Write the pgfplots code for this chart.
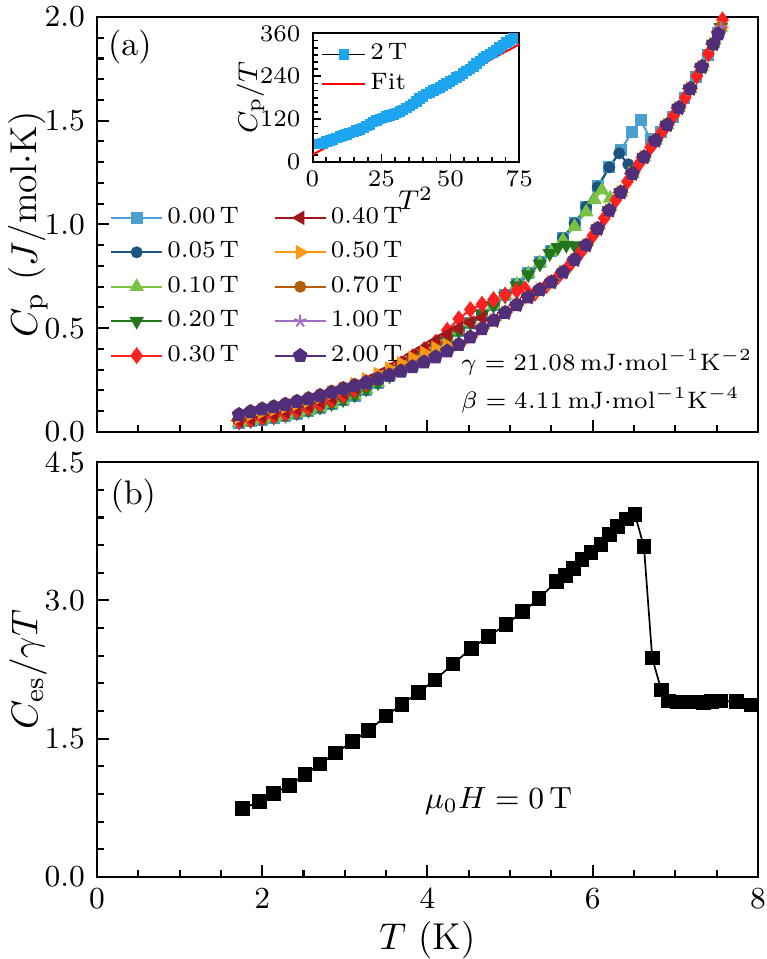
\documentclass[border=0pt]{standalone}
\usepackage{pgfplots}
\pgfplotsset{compat=1.18}
\usetikzlibrary{plotmarks}
\definecolor{c0}{RGB}{74,158,208}
\definecolor{c1}{RGB}{28,84,128}
\definecolor{c2}{RGB}{122,194,66}
\definecolor{c3}{RGB}{36,118,30}
\definecolor{c4}{RGB}{255,32,32}
\definecolor{c5}{RGB}{160,22,26}
\definecolor{c6}{RGB}{255,150,20}
\definecolor{c7}{RGB}{180,92,8}
\definecolor{c8}{RGB}{160,112,196}
\definecolor{c9}{RGB}{80,46,122}
\definecolor{cin}{RGB}{30,165,240}
\pgfplotsset{
  panel/.style={width=194.4pt, height=122pt, scale only axis, xmin=0, xmax=8,
    tick align=inside, tick pos=left,
    major tick length=3.5pt, minor tick length=2pt,
    every tick/.style={black, line width=0.6pt},
    axis line style={line width=0.7pt},
    tick label style={font=\fontsize{9}{10}\selectfont},
    label style={font=\fontsize{11}{13}\selectfont},
    yticklabel style={/pgf/number format/.cd,fixed,fixed zerofill,precision=1},
    xtick={0,2,4,6,8}, minor x tick num=3,
    ylabel style={at={(axis description cs:-0.104,0.5)},anchor=center},
  },
  ser/.style={color=#1, line width=0.6pt, mark options={solid, fill=#1, draw=#1}},
}
\begin{document}
\begin{tikzpicture}
% bottom panel
\begin{axis}[panel, at={(0,0)}, anchor=south west,
  ymin=0, ymax=4.5, ytick={0,1.5,3,4.5}, minor y tick num=4,
  xlabel={$T$ (K)}, ylabel={$C_\mathrm{es}/\gamma T$},
  xlabel style={at={(axis description cs:0.5,-0.152)},anchor=center}]
\addplot[black, line width=0.5pt, mark=square*, mark size=1.9pt] coordinates {
(1.76,0.741)(1.97,0.821)(2.14,0.908)(2.33,0.995)(2.52,1.111)(2.70,1.228)(2.89,1.344)
(3.09,1.471)(3.29,1.591)(3.50,1.747)(3.69,1.874)(3.89,2.001)(4.09,2.139)(4.31,2.310)
(4.53,2.481)(4.74,2.608)(4.95,2.739)(5.15,2.877)(5.35,3.018)(5.56,3.207)(5.67,3.273)
(5.77,3.345)(5.87,3.444)(5.98,3.520)(6.10,3.607)(6.20,3.716)(6.30,3.800)(6.41,3.883)
(6.51,3.934)(6.62,3.582)(6.72,2.376)(6.83,2.027)(6.92,1.911)(7.02,1.900)(7.13,1.900)
(7.23,1.900)(7.34,1.893)(7.44,1.903)(7.55,1.911)(7.74,1.903)(7.92,1.867)};
\node[font=\fontsize{10}{12}\selectfont] at (axis cs:0.44,4.13) {(b)};
\node[font=\fontsize{9}{11}\selectfont] at (axis cs:4.86,0.82) {$\mu_0H=0\,\mathrm{T}$};
\end{axis}
% top panel
\begin{axis}[panel, at={(0,130.9pt)}, anchor=south west,
  ymin=0, ymax=2, ytick={0,0.5,1,1.5,2}, minor y tick num=4, xticklabels={},
  ylabel={$C_\mathrm{p}$ ($J$/mol$\cdot$K)},
  legend columns=2,
  legend cell align=left,
  legend style={at={(0.019,0.553)}, anchor=north west, draw=none, fill=none, inner sep=0pt,
    font=\fontsize{7}{8}\selectfont, row sep=1.5pt, nodes={inner sep=1.2pt},
    /tikz/every even column/.append style={column sep=9pt}},
  legend image code/.code={\draw[mark repeat=2,mark phase=2,#1] plot coordinates {(0pt,0pt)(7.5pt,0pt)(15pt,0pt)};},
]
% legend in column order
\addlegendimage{ser=c0, mark=square*, mark size=1.45pt}\addlegendentry{0.00\,T}
\addlegendimage{ser=c5, mark=triangle*, mark size=1.9pt, mark options={rotate=90}}\addlegendentry{0.40\,T}
\addlegendimage{ser=c1, mark=*, mark size=1.45pt}\addlegendentry{0.05\,T}
\addlegendimage{ser=c6, mark=triangle*, mark size=1.9pt, mark options={rotate=-90}}\addlegendentry{0.50\,T}
\addlegendimage{ser=c2, mark=triangle*, mark size=1.9pt}\addlegendentry{0.10\,T}
\addlegendimage{ser=c7, mark=*, mark size=1.45pt}\addlegendentry{0.70\,T}
\addlegendimage{ser=c3, mark=triangle*, mark size=1.9pt, mark options={rotate=180}}\addlegendentry{0.20\,T}
\addlegendimage{ser=c8, mark=star, mark size=1.9pt}\addlegendentry{1.00\,T}
\addlegendimage{ser=c4, mark=diamond*, mark size=2pt}\addlegendentry{0.30\,T}
\addlegendimage{ser=c9, mark=pentagon*, mark size=1.9pt}\addlegendentry{2.00\,T}
% 0.00 T
\addplot[forget plot, ser=c0, mark=square*, mark size=1.45pt] coordinates {
(1.72,0.043)(1.86,0.050)(2.00,0.058)(2.14,0.067)(2.28,0.077)(2.42,0.088)(2.56,0.101)(2.70,0.116)(2.84,0.133)(2.98,0.152)(3.12,0.175)(3.26,0.203)(3.40,0.235)(3.54,0.268)(3.68,0.302)(3.82,0.337)(3.96,0.373)(4.10,0.410)(4.24,0.447)(4.38,0.485)(4.52,0.524)(4.66,0.565)(4.80,0.610)(4.94,0.660)(5.08,0.712)(5.22,0.765)(5.36,0.818)(5.50,0.872)(5.64,0.935)(5.78,1.005)(5.92,1.085)(6.06,1.185)(6.20,1.275)(6.34,1.360)(6.48,1.447)
(6.58,1.504)(6.70,1.410)(6.83,1.445)(6.97,1.520)(7.11,1.610)(7.25,1.710)(7.39,1.815)(7.52,1.925)};
% 0.05 T
\addplot[forget plot, ser=c1, mark=*, mark size=1.45pt] coordinates {
(1.72,0.044)(1.86,0.051)(2.00,0.059)(2.14,0.068)(2.28,0.078)(2.42,0.089)(2.56,0.102)(2.70,0.117)(2.84,0.134)(2.98,0.153)(3.12,0.176)(3.26,0.204)(3.40,0.236)(3.54,0.269)(3.68,0.303)(3.82,0.338)(3.96,0.374)(4.10,0.411)(4.24,0.448)(4.38,0.486)(4.52,0.525)(4.66,0.566)(4.80,0.611)(4.94,0.660)(5.08,0.712)(5.22,0.765)(5.36,0.818)(5.50,0.872)(5.64,0.935)(5.78,1.005)(5.92,1.085)(6.06,1.180)(6.20,1.275)
(6.32,1.343)(6.43,1.290)(6.52,1.272)(6.62,1.325)(6.76,1.405)(6.90,1.480)(7.04,1.562)(7.18,1.655)(7.32,1.760)(7.46,1.870)(7.55,1.950)};
% 0.10 T
\addplot[forget plot, ser=c2, mark=triangle*, mark size=1.9pt] coordinates {
(1.72,0.045)(1.86,0.052)(2.00,0.060)(2.14,0.069)(2.28,0.079)(2.42,0.090)(2.56,0.103)(2.70,0.118)(2.84,0.135)(2.98,0.154)(3.12,0.177)(3.26,0.205)(3.40,0.237)(3.54,0.270)(3.68,0.304)(3.82,0.339)(3.96,0.375)(4.10,0.411)(4.24,0.448)(4.38,0.486)(4.52,0.525)(4.66,0.566)(4.80,0.610)(4.94,0.658)(5.08,0.710)(5.22,0.762)(5.36,0.815)(5.50,0.870)
(5.64,0.925)(5.78,0.990)(5.92,1.060)(6.02,1.120)(6.11,1.166)(6.21,1.126)(6.34,1.155)(6.48,1.245)(6.62,1.325)(6.76,1.405)(6.90,1.480)(7.04,1.562)(7.18,1.655)(7.32,1.760)(7.46,1.870)(7.55,1.950)};
% 0.20 T
\addplot[forget plot, ser=c3, mark=triangle*, mark size=1.9pt, mark options={rotate=180}] coordinates {
(1.72,0.047)(1.86,0.054)(2.00,0.062)(2.14,0.071)(2.28,0.081)(2.42,0.092)(2.56,0.105)(2.70,0.120)(2.84,0.137)(2.98,0.156)(3.12,0.179)(3.26,0.207)(3.40,0.238)(3.54,0.271)(3.68,0.305)(3.82,0.340)(3.96,0.376)(4.10,0.412)(4.24,0.449)(4.38,0.487)(4.52,0.526)(4.66,0.566)(4.80,0.609)(4.94,0.655)(5.08,0.705)(5.22,0.758)(5.36,0.810)
(5.48,0.860)(5.58,0.890)(5.68,0.900)(5.78,0.898)(5.92,0.900)(6.06,0.980)(6.20,1.068)(6.34,1.155)(6.48,1.245)(6.62,1.325)(6.76,1.405)(6.90,1.480)(7.04,1.562)(7.18,1.655)(7.32,1.760)(7.46,1.870)(7.55,1.950)};
% 0.30 T
\addplot[forget plot, ser=c4, mark=diamond*, mark size=2pt] coordinates {
(1.72,0.050)(1.86,0.058)(2.00,0.067)(2.14,0.077)(2.28,0.088)(2.42,0.101)(2.56,0.116)(2.70,0.133)(2.84,0.153)(2.98,0.176)(3.12,0.202)(3.26,0.232)(3.40,0.263)(3.54,0.295)(3.68,0.328)(3.82,0.362)(3.96,0.397)(4.10,0.433)(4.24,0.490)(4.38,0.545)(4.52,0.590)(4.66,0.615)(4.80,0.638)(4.94,0.660)(5.08,0.680)(5.18,0.690)
(5.30,0.668)(5.44,0.705)(5.58,0.748)(5.72,0.803)(5.86,0.868)(6.00,0.945)(6.14,1.030)(6.28,1.118)(6.42,1.207)(6.56,1.292)(6.70,1.372)(6.84,1.448)(6.98,1.525)(7.12,1.612)(7.26,1.715)(7.40,1.823)(7.52,1.930)(7.57,1.986)};
% 0.40 T
\addplot[forget plot, ser=c5, mark=triangle*, mark size=1.9pt, mark options={rotate=90}] coordinates {
(1.72,0.055)(1.86,0.064)(2.00,0.074)(2.14,0.085)(2.28,0.097)(2.42,0.111)(2.56,0.127)(2.70,0.145)(2.84,0.166)(2.98,0.189)(3.12,0.215)(3.26,0.243)(3.40,0.274)(3.54,0.305)(3.68,0.337)(3.82,0.372)(3.96,0.405)(4.10,0.438)(4.24,0.470)(4.38,0.500)(4.52,0.527)(4.66,0.550)
(4.80,0.537)(4.94,0.575)(5.08,0.612)(5.22,0.650)(5.36,0.686)(5.50,0.722)(5.64,0.770)(5.78,0.830)(5.92,0.900)(6.06,0.980)(6.20,1.068)(6.34,1.155)(6.48,1.245)(6.62,1.325)(6.76,1.405)(6.90,1.480)(7.04,1.562)(7.18,1.655)(7.32,1.760)(7.46,1.870)};
% 0.50 T
\addplot[forget plot, ser=c6, mark=triangle*, mark size=1.9pt, mark options={rotate=-90}] coordinates {
(1.72,0.072)(1.86,0.083)(2.00,0.095)(2.14,0.107)(2.28,0.120)(2.42,0.134)(2.56,0.150)(2.70,0.167)(2.84,0.186)(2.98,0.207)(3.12,0.230)(3.26,0.254)(3.40,0.279)(3.54,0.305)(3.68,0.331)(3.82,0.357)(3.96,0.382)(4.10,0.404)(4.24,0.418)
(4.38,0.421)(4.52,0.457)(4.66,0.497)(4.80,0.537)(4.94,0.575)(5.08,0.612)(5.22,0.650)(5.36,0.686)(5.50,0.722)(5.64,0.770)(5.78,0.830)(5.92,0.900)(6.06,0.980)(6.20,1.068)(6.34,1.155)(6.48,1.245)(6.62,1.325)(6.76,1.405)(6.90,1.480)(7.04,1.562)(7.18,1.655)(7.32,1.760)(7.46,1.870)(7.55,1.950)};
% 0.70 T
\addplot[forget plot, ser=c7, mark=*, mark size=1.45pt] coordinates {
(1.72,0.088)(1.86,0.103)(2.00,0.116)(2.14,0.127)(2.28,0.139)(2.42,0.153)(2.56,0.167)(2.70,0.182)(2.84,0.199)(2.98,0.216)(3.12,0.231)(3.26,0.247)(3.40,0.264)(3.54,0.282)(3.68,0.301)(3.82,0.321)(3.96,0.343)(4.10,0.366)(4.24,0.392)
(4.38,0.423)(4.52,0.459)(4.66,0.499)(4.80,0.539)(4.94,0.577)(5.08,0.614)(5.22,0.652)(5.36,0.688)(5.50,0.724)(5.64,0.772)(5.78,0.832)(5.92,0.902)(6.06,0.982)(6.20,1.070)(6.34,1.157)(6.48,1.247)(6.62,1.327)(6.76,1.407)(6.90,1.482)(7.04,1.564)(7.18,1.657)(7.32,1.762)(7.46,1.872)(7.55,1.952)};
% 1.00 T
\addplot[forget plot, ser=c8, mark=star, mark size=1.9pt] coordinates {
(1.72,0.081)(1.86,0.095)(2.00,0.108)(2.14,0.118)(2.28,0.130)(2.42,0.144)(2.56,0.157)(2.70,0.172)(2.84,0.188)(2.98,0.205)(3.12,0.220)(3.26,0.236)(3.40,0.253)(3.54,0.271)(3.68,0.290)(3.82,0.311)(3.96,0.334)(4.10,0.359)(4.24,0.387)(4.38,0.419)(4.52,0.455)(4.66,0.495)(4.80,0.535)(4.94,0.573)(5.08,0.610)(5.22,0.648)(5.36,0.684)(5.50,0.720)(5.64,0.768)(5.78,0.828)(5.92,0.898)(6.06,0.978)(6.20,1.066)(6.34,1.153)(6.48,1.243)(6.62,1.323)(6.76,1.403)(6.90,1.478)(7.04,1.560)(7.18,1.653)(7.32,1.758)(7.46,1.868)(7.55,1.948)};
% 2.00 T
\addplot[forget plot, ser=c9, mark=pentagon*, mark size=1.9pt] coordinates {
(1.72,0.083)(1.86,0.097)(2.00,0.110)(2.14,0.120)(2.28,0.132)(2.42,0.146)(2.56,0.159)(2.70,0.174)(2.84,0.190)(2.98,0.207)(3.12,0.222)(3.26,0.238)(3.40,0.255)(3.54,0.273)(3.68,0.292)(3.82,0.313)(3.96,0.336)(4.10,0.361)(4.24,0.389)(4.38,0.421)(4.52,0.457)(4.66,0.497)(4.80,0.537)(4.94,0.575)(5.08,0.612)(5.22,0.650)(5.36,0.686)(5.50,0.722)(5.64,0.770)(5.78,0.830)(5.92,0.900)(6.06,0.980)(6.20,1.068)(6.34,1.155)(6.48,1.245)(6.62,1.325)(6.76,1.405)(6.90,1.480)(7.04,1.562)(7.18,1.655)(7.32,1.760)(7.46,1.870)(7.52,1.918)};
\node[font=\fontsize{10}{12}\selectfont] at (axis cs:0.4,1.855) {(a)};
\node[anchor=west, font=\fontsize{6.6}{8}\selectfont, inner sep=0pt] at (axis cs:4.4,0.337) {$\gamma=21.08\,\mathrm{mJ{\cdot}mol^{-1}K^{-2}}$};
\node[anchor=west, font=\fontsize{6.6}{8}\selectfont, inner sep=0pt] at (axis cs:4.4,0.154) {$\beta=4.11\,\mathrm{mJ{\cdot}mol^{-1}K^{-4}}$};
\end{axis}
% inset
\begin{axis}[at={(63.4pt,210.2pt)}, anchor=south west, width=60.8pt, height=37.9pt, scale only axis,
  xmin=0, xmax=75, ymin=0, ymax=360, xtick={0,25,50,75}, minor x tick num=4,
  ytick={0,120,240,360}, minor y tick num=5,
  tick align=inside, tick pos=left, major tick length=2.5pt, minor tick length=1.5pt,
  every tick/.style={black, line width=0.5pt}, axis line style={line width=0.6pt},
  tick label style={font=\fontsize{7}{8}\selectfont},
  xticklabel style={yshift=1pt},
  label style={font=\fontsize{8}{9}\selectfont},
  xlabel={$T^2$}, ylabel={$C_\mathrm{p}/T$},
  xlabel style={at={(axis description cs:0.5,-0.28)},anchor=center},
  ylabel style={at={(axis description cs:-0.30,0.5)},anchor=center},
  legend cell align=left,
  legend style={at={(0.04,0.955)}, anchor=north west, draw=none, fill=none, inner sep=0pt,
    font=\fontsize{7}{8}\selectfont, row sep=0pt, nodes={inner sep=1.2pt}},
  legend image code/.code={\draw[mark repeat=2,mark phase=2,#1] plot coordinates {(0pt,0pt)(6.3pt,0pt)(12.6pt,0pt)};},
]
\addplot[black, line width=0.5pt, mark=square*, mark size=1.3pt, mark options={fill=cin, draw=cin}] coordinates {
(2.4,51)(3.7,53)(5.1,58)(6.3,61)(7.5,64)(8.7,68)(9.9,72)(11.1,75)(12.3,78)(13.5,81)(14.8,84)(16.0,88)(17.2,92)(18.4,96)(19.6,101)(20.8,106)(22.0,112)(23.2,117)(24.4,121)(25.6,124)(26.8,127)(28.0,130)(29.3,134)(30.5,137)(31.7,141)(32.9,146)(34.1,151)(35.3,157)(36.5,163)(37.7,170)(38.9,178)(40.1,184)(41.4,190)(42.6,195)(43.8,200)(45.0,204)(46.2,209)(47.4,215)(48.6,220)(49.8,225)(51.0,230)(52.2,236)(53.4,241)(54.6,248)(55.9,255)(57.1,261)(58.3,267)(59.5,275)(60.7,283)(61.9,290)(63.1,297)(64.3,302)(65.5,307)(66.7,314)(67.9,321)(69.1,327)(70.4,334)(71.6,340)(72.8,346)};
\addlegendentry{2\,T}
\addplot[red, line width=0.6pt] coordinates {(0,21.08)(75,329.33)};
\addlegendentry{Fit}
\end{axis}
\pgfresetboundingbox
\path (-28.5pt,-24.1pt) rectangle (197pt,257.9pt);
\end{tikzpicture}
\end{document}
